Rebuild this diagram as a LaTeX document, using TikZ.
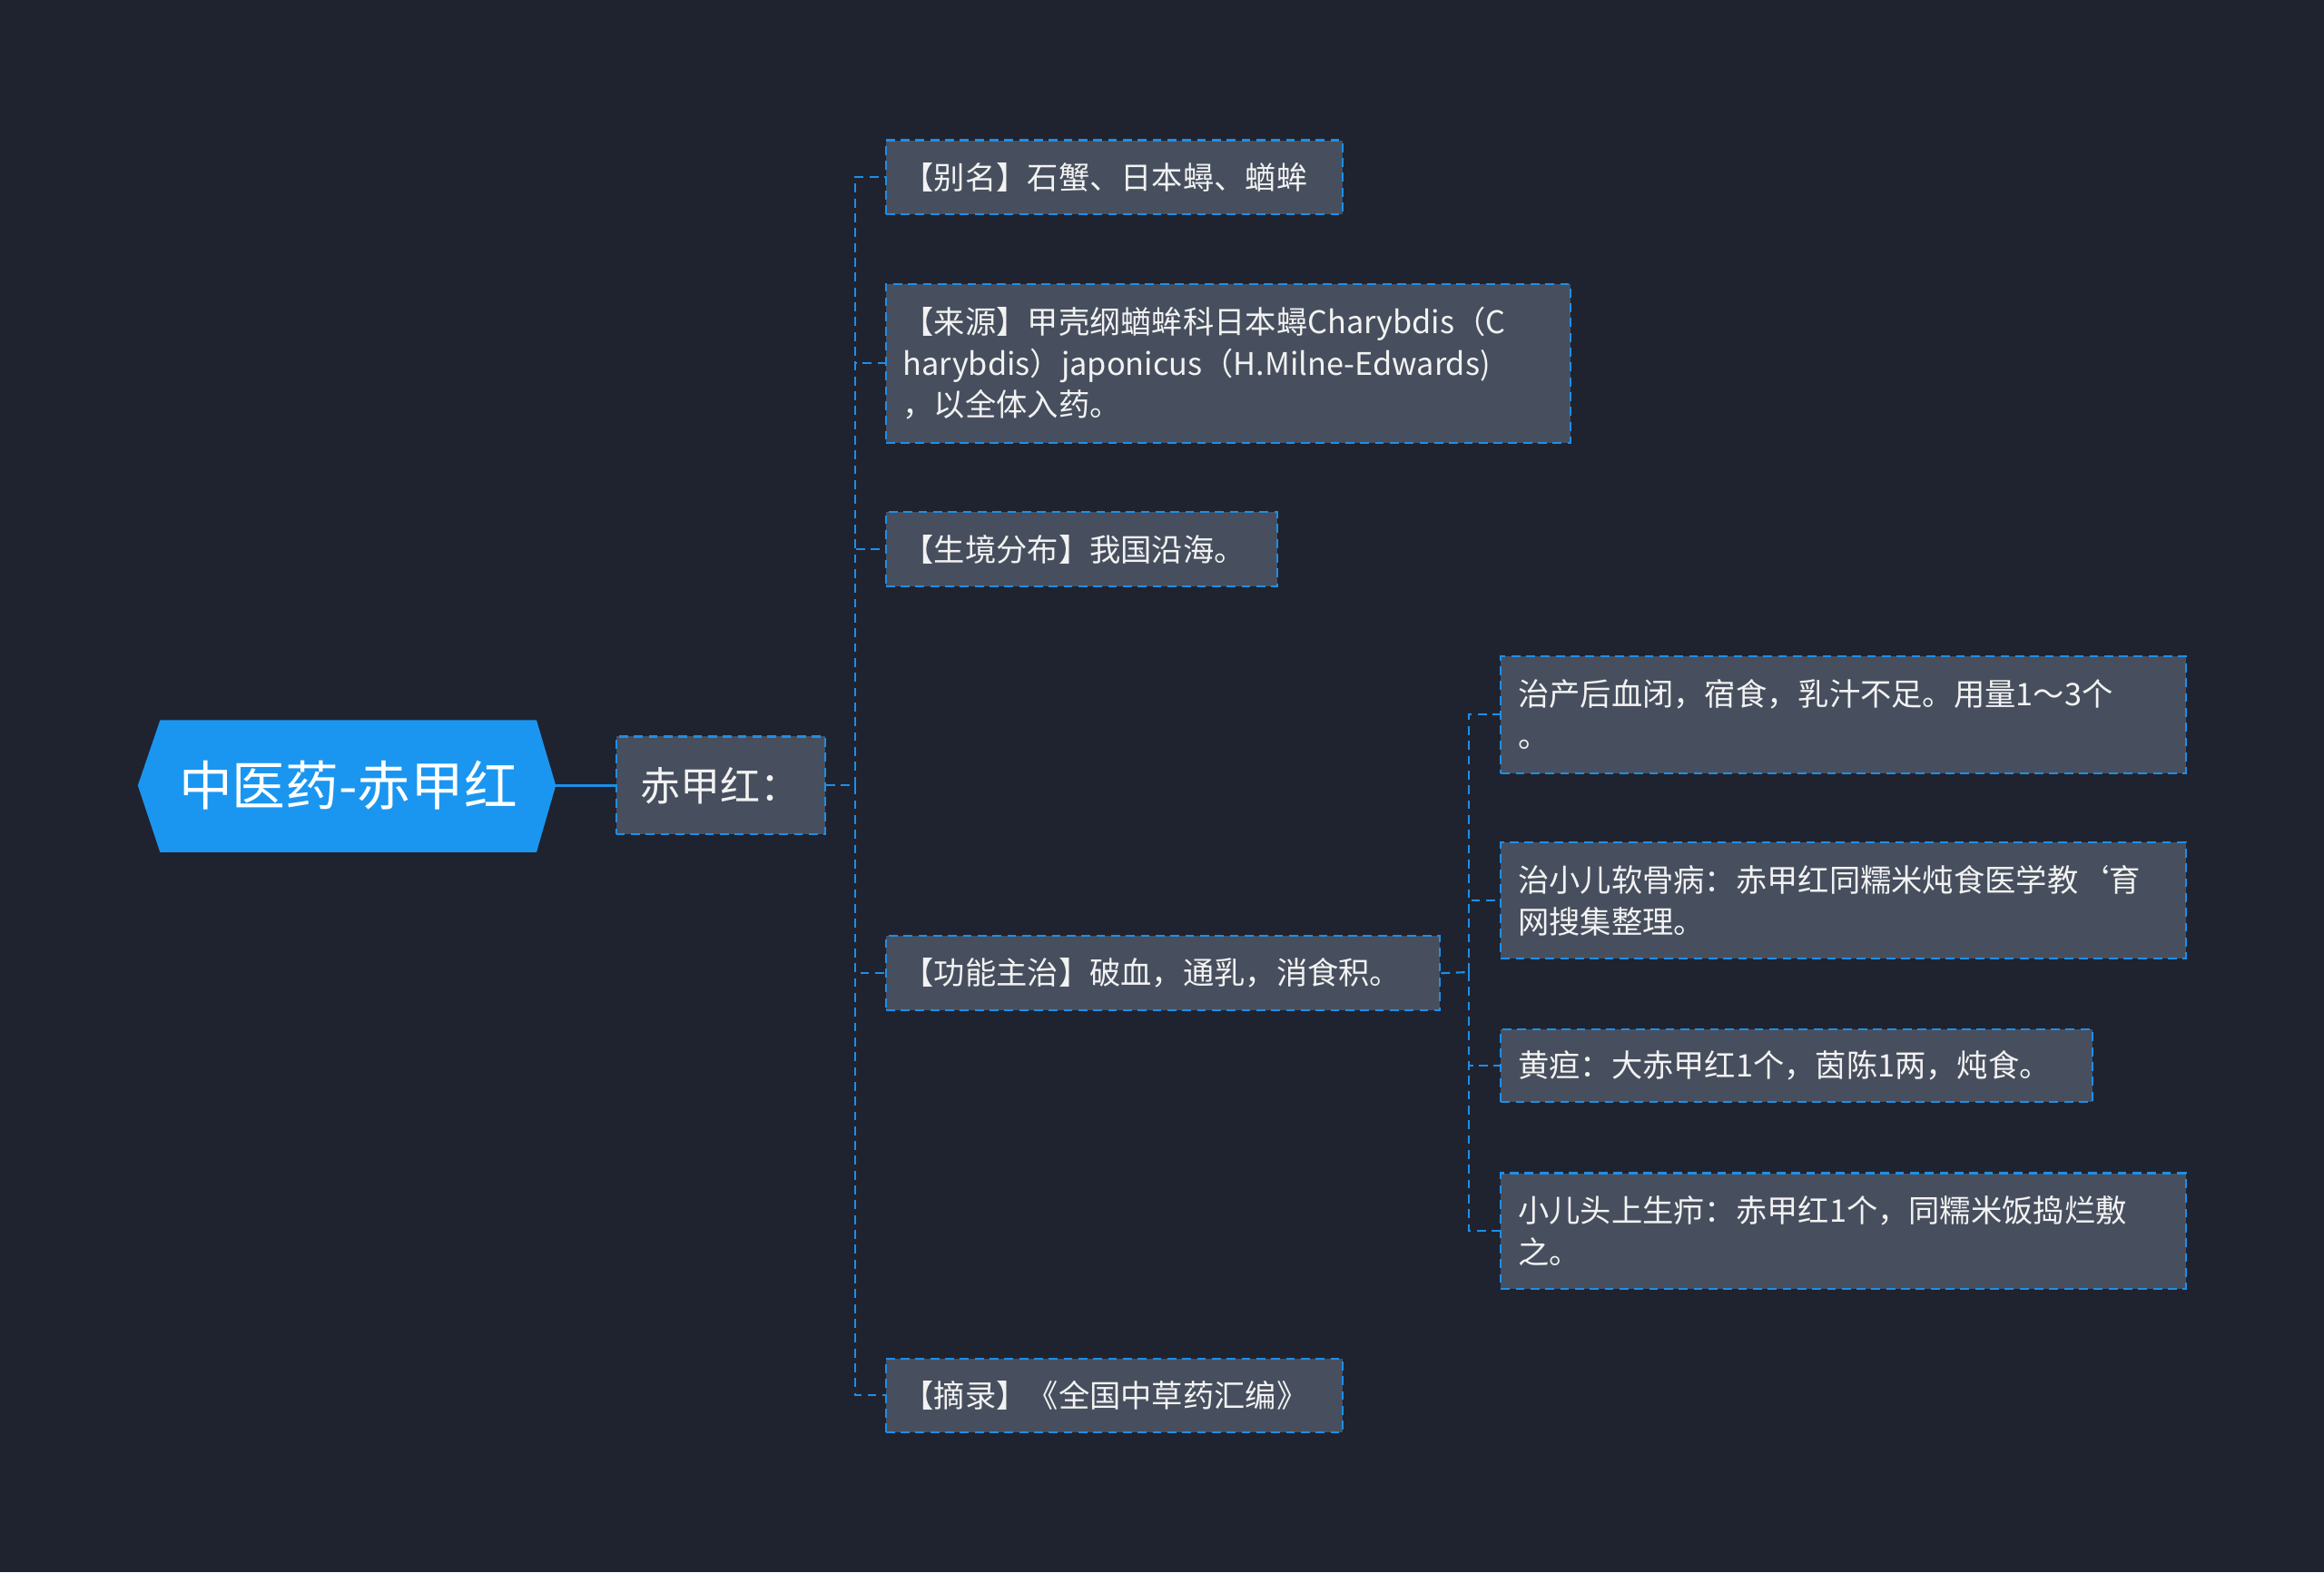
\documentclass[tikz,border=0pt]{standalone}
\usepackage{fontspec}
\setmainfont{Noto Sans CJK SC}
\usetikzlibrary{calc}
\begin{document}
\begin{tikzpicture}[x=1pt,y=-1pt,
  leaf/.style={draw=lnk,dash pattern=on 6pt off 4pt,line width=1.3pt,fill=box,text=txt,anchor=north west,inner sep=0pt,align=left},
  con/.style={draw=lnk,dash pattern=on 6pt off 4pt,line width=1.3pt}]
\definecolor{bg}{HTML}{1F2330}
\definecolor{box}{HTML}{474F5E}
\definecolor{lnk}{HTML}{1D8FE8}
\definecolor{rootc}{HTML}{1A96F0}
\definecolor{txt}{HTML}{F2F2F2}
\fill[bg] (0,0) rectangle (1568,1061);
\useasboundingbox (0,0) rectangle (1568,1061);
% root
\fill[rootc] (93,530) -- (108,486) -- (362,486) -- (375,530) -- (362,575) -- (108,575) -- cycle;
\node[text=white,font=\fontsize{36}{42}\selectfont] (root) at (235,530) {中医药-赤甲红};
\coordinate (rootE) at (375,530);
\node[leaf,minimum width=141pt,minimum height=66pt,anchor=west,font=\fontsize{27}{32}\selectfont,align=center] (n1) at (415,530) {赤甲红：};
\draw[lnk,line width=1.5pt] (rootE) -- (n1.west);
\newcommand{\lf}[6]{\node[leaf,minimum width=#3pt,minimum height=#4pt] (#1) at (#2) {}; \node[text=txt,anchor=west,align=left,inner sep=0pt,font=\fontsize{21}{28}\selectfont] at ($(#1.west)+(12,0)$) {#6};}
\lf{a}{597,94}{308}{50}{}{【别名】石蟹、日本蟳、蝤蛑}
\lf{b}{597,191}{462}{107}{}{【来源】甲壳纲蝤蛑科日本蟳Charybdis（C\\harybdis）japonicus（H.Milne-Edwards)\\，以全体入药。}
\lf{c}{597,345}{264}{50}{}{【生境分布】我国沿海。}
\lf{d}{597,631}{374}{50}{}{【功能主治】破血，通乳，消食积。}
\lf{e}{597,916}{308}{50}{}{【摘录】《全国中草药汇编》}
\lf{f}{1012,442}{462}{79}{}{治产后血闭，宿食，乳汁不足。用量1～3个\\。}
\lf{g}{1012,568}{462}{78}{}{治小儿软骨病：赤甲红同糯米炖食医学教`育\\网搜集整理。}
\lf{h}{1012,694}{399}{49}{}{黄疸：大赤甲红1个，茵陈1两，炖食。}
\lf{i}{1012,791}{462}{78}{}{小儿头上生疖：赤甲红1个，同糯米饭捣烂敷\\之。}
\coordinate (t1) at (577,530);
\coordinate (t2) at (991,656);
\draw[con] (n1.east) -- (t1);
\foreach \c in {a,b,c,d,e} \draw[con] (t1) |- (\c.west);
\draw[con] (d.east) -- (t2);
\foreach \c in {f,g,h,i} \draw[con] (t2) |- (\c.west);
\end{tikzpicture}
\end{document}
